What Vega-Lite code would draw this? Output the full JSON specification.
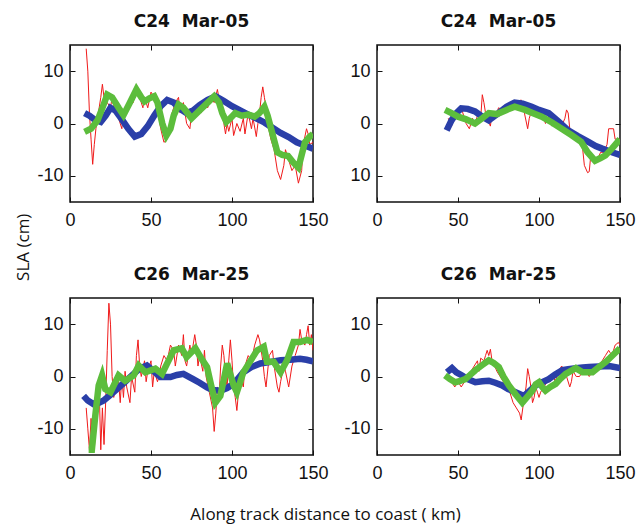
{
  "$schema": "https://vega.github.io/schema/vega-lite/v6.json",
  "background": "white",
  "padding": {"left": 15, "top": 11, "right": 0, "bottom": 5},
  "datasets": {
    "tl": [
      {"s":"b","x":9,"y":2.0},{"s":"b","x":12,"y":1.5},{"s":"b","x":15,"y":0.8},{"s":"b","x":19,"y":0.3},{"s":"b","x":22,"y":1.5},{"s":"b","x":25,"y":3.0},{"s":"b","x":28,"y":2.5},{"s":"b","x":32,"y":0.8},{"s":"b","x":36,"y":-1.0},{"s":"b","x":40,"y":-2.5},{"s":"b","x":44,"y":-2.0},{"s":"b","x":48,"y":-0.5},{"s":"b","x":52,"y":1.5},{"s":"b","x":56,"y":3.3},{"s":"b","x":60,"y":4.5},{"s":"b","x":64,"y":4.0},{"s":"b","x":68,"y":2.8},{"s":"b","x":72,"y":2.0},{"s":"b","x":76,"y":2.5},{"s":"b","x":80,"y":3.5},{"s":"b","x":85,"y":4.5},{"s":"b","x":90,"y":5.2},{"s":"b","x":95,"y":4.3},{"s":"b","x":100,"y":3.3},{"s":"b","x":105,"y":2.5},{"s":"b","x":110,"y":1.7},{"s":"b","x":115,"y":1.0},{"s":"b","x":120,"y":0.2},{"s":"b","x":125,"y":-0.8},{"s":"b","x":130,"y":-1.8},{"s":"b","x":135,"y":-2.6},{"s":"b","x":140,"y":-3.6},{"s":"b","x":145,"y":-4.2},{"s":"b","x":150,"y":-4.8},
      {"s":"g","x":9,"y":-1.6},{"s":"g","x":13,"y":-1},{"s":"g","x":17,"y":0.6},{"s":"g","x":20,"y":3},{"s":"g","x":23,"y":5.5},{"s":"g","x":26,"y":5},{"s":"g","x":30,"y":3},{"s":"g","x":33,"y":1.6},{"s":"g","x":37,"y":4},{"s":"g","x":41,"y":6.5},{"s":"g","x":44,"y":5},{"s":"g","x":46,"y":4.2},{"s":"g","x":49,"y":4.8},{"s":"g","x":52,"y":5.2},{"s":"g","x":54,"y":4},{"s":"g","x":57,"y":0},{"s":"g","x":59.5,"y":-2.3},{"s":"g","x":62,"y":-1},{"s":"g","x":64,"y":1.5},{"s":"g","x":67,"y":3.6},{"s":"g","x":70,"y":3},{"s":"g","x":75,"y":1},{"s":"g","x":80,"y":2.5},{"s":"g","x":85,"y":4},{"s":"g","x":89,"y":5.2},{"s":"g","x":92,"y":4},{"s":"g","x":94,"y":2},{"s":"g","x":96.5,"y":0.3},{"s":"g","x":99,"y":1},{"s":"g","x":102,"y":2},{"s":"g","x":106,"y":1.5},{"s":"g","x":110,"y":1.7},{"s":"g","x":114,"y":1.3},{"s":"g","x":117,"y":2},{"s":"g","x":120,"y":3.2},{"s":"g","x":122,"y":1.5},{"s":"g","x":125,"y":-2},{"s":"g","x":128,"y":-5.5},{"s":"g","x":131,"y":-6},{"s":"g","x":134.6,"y":-6.2},{"s":"g","x":138,"y":-7.5},{"s":"g","x":141,"y":-8.4},{"s":"g","x":143,"y":-6},{"s":"g","x":145,"y":-3.6},{"s":"g","x":148,"y":-2.5},{"s":"g","x":150,"y":-2},
      {"s":"r","x":10,"y":14.3},{"s":"r","x":11,"y":10},{"s":"r","x":12,"y":2},{"s":"r","x":13,"y":-3},{"s":"r","x":14,"y":-7.8},{"s":"r","x":15,"y":-4},{"s":"r","x":16,"y":-1},{"s":"r","x":17,"y":1},{"s":"r","x":19,"y":5},{"s":"r","x":20,"y":7.5},{"s":"r","x":21,"y":5},{"s":"r","x":22,"y":6},{"s":"r","x":23,"y":4},{"s":"r","x":25,"y":3},{"s":"r","x":26,"y":5},{"s":"r","x":28,"y":2},{"s":"r","x":30,"y":1},{"s":"r","x":32,"y":-1},{"s":"r","x":33,"y":2},{"s":"r","x":35,"y":3},{"s":"r","x":37,"y":5},{"s":"r","x":39,"y":4},{"s":"r","x":41,"y":7},{"s":"r","x":43,"y":5},{"s":"r","x":45,"y":3},{"s":"r","x":46,"y":5},{"s":"r","x":48,"y":3},{"s":"r","x":50,"y":6},{"s":"r","x":52,"y":5},{"s":"r","x":54,"y":3},{"s":"r","x":56,"y":-1},{"s":"r","x":58,"y":-3.6},{"s":"r","x":60,"y":-3},{"s":"r","x":62,"y":0},{"s":"r","x":63,"y":2},{"s":"r","x":65,"y":4},{"s":"r","x":67,"y":5},{"s":"r","x":68,"y":2},{"s":"r","x":70,"y":4},{"s":"r","x":72,"y":0},{"s":"r","x":74,"y":-1},{"s":"r","x":75,"y":2},{"s":"r","x":77,"y":1},{"s":"r","x":79,"y":3},{"s":"r","x":81,"y":2},{"s":"r","x":83,"y":4},{"s":"r","x":85,"y":3},{"s":"r","x":87,"y":5},{"s":"r","x":89,"y":4},{"s":"r","x":91,"y":6.5},{"s":"r","x":93,"y":3},{"s":"r","x":95,"y":0},{"s":"r","x":96,"y":-2},{"s":"r","x":97,"y":0},{"s":"r","x":98,"y":-1.5},{"s":"r","x":100,"y":1},{"s":"r","x":101,"y":-2.3},{"s":"r","x":103,"y":0},{"s":"r","x":105,"y":-1.5},{"s":"r","x":107,"y":1},{"s":"r","x":108,"y":-2},{"s":"r","x":110,"y":2},{"s":"r","x":112,"y":-1},{"s":"r","x":113,"y":1},{"s":"r","x":115,"y":-2.5},{"s":"r","x":116,"y":0},{"s":"r","x":117,"y":2},{"s":"r","x":118,"y":5},{"s":"r","x":119,"y":7},{"s":"r","x":120,"y":5},{"s":"r","x":121,"y":3},{"s":"r","x":122,"y":0},{"s":"r","x":124,"y":-3},{"s":"r","x":126,"y":-5},{"s":"r","x":128,"y":-9},{"s":"r","x":130,"y":-10.7},{"s":"r","x":132,"y":-8},{"s":"r","x":133,"y":-5},{"s":"r","x":135,"y":-7},{"s":"r","x":137,"y":-9},{"s":"r","x":139,"y":-8},{"s":"r","x":141,"y":-11.4},{"s":"r","x":143,"y":-9},{"s":"r","x":144,"y":-4},{"s":"r","x":146,"y":-1},{"s":"r","x":147,"y":-2},{"s":"r","x":148,"y":-4},{"s":"r","x":150,"y":-3.6}
    ],
    "tr": [
      {"s":"b","x":43,"y":-1.3},{"s":"b","x":46,"y":0.6},{"s":"b","x":49,"y":2},{"s":"b","x":52,"y":2.9},{"s":"b","x":56,"y":2.8},{"s":"b","x":60.5,"y":2.3},{"s":"b","x":65,"y":1.3},{"s":"b","x":69,"y":0.6},{"s":"b","x":72,"y":1.3},{"s":"b","x":75,"y":2},{"s":"b","x":80,"y":3.2},{"s":"b","x":85,"y":4.0},{"s":"b","x":90,"y":3.8},{"s":"b","x":95.5,"y":3.2},{"s":"b","x":100,"y":2.6},{"s":"b","x":106,"y":2},{"s":"b","x":112,"y":0.4},{"s":"b","x":118,"y":-1.3},{"s":"b","x":124,"y":-2.4},{"s":"b","x":130.5,"y":-3.5},{"s":"b","x":135,"y":-4.3},{"s":"b","x":139,"y":-4.8},{"s":"b","x":145,"y":-5.5},{"s":"b","x":150,"y":-6.0},
      {"s":"g","x":42,"y":2.6},{"s":"g","x":46,"y":2},{"s":"g","x":50,"y":1.3},{"s":"g","x":55,"y":0.8},{"s":"g","x":60.5,"y":0},{"s":"g","x":65,"y":1},{"s":"g","x":69,"y":2},{"s":"g","x":74,"y":1.8},{"s":"g","x":80,"y":2.6},{"s":"g","x":85,"y":3.2},{"s":"g","x":91.4,"y":2.6},{"s":"g","x":96,"y":2},{"s":"g","x":101.7,"y":1.3},{"s":"g","x":108,"y":0.2},{"s":"g","x":114,"y":-1},{"s":"g","x":120,"y":-2.2},{"s":"g","x":126,"y":-3.5},{"s":"g","x":130,"y":-5.5},{"s":"g","x":134.6,"y":-7.1},{"s":"g","x":138,"y":-6.6},{"s":"g","x":141,"y":-6.1},{"s":"g","x":145,"y":-4.8},{"s":"g","x":150,"y":-3.0},
      {"s":"r","x":44,"y":1},{"s":"r","x":46,"y":-0.5},{"s":"r","x":48,"y":2},{"s":"r","x":52,"y":3},{"s":"r","x":55,"y":0},{"s":"r","x":57,"y":-1},{"s":"r","x":59,"y":1},{"s":"r","x":60,"y":-0.5},{"s":"r","x":62,"y":1.5},{"s":"r","x":64,"y":1},{"s":"r","x":65,"y":5.5},{"s":"r","x":66,"y":4},{"s":"r","x":67,"y":2},{"s":"r","x":68,"y":1},{"s":"r","x":70,"y":-0.5},{"s":"r","x":71,"y":2},{"s":"r","x":73,"y":1},{"s":"r","x":75,"y":3},{"s":"r","x":78,"y":2.5},{"s":"r","x":82,"y":3.5},{"s":"r","x":86,"y":4},{"s":"r","x":89,"y":4.5},{"s":"r","x":91,"y":2},{"s":"r","x":93,"y":-1},{"s":"r","x":94,"y":1},{"s":"r","x":96,"y":3},{"s":"r","x":98,"y":2},{"s":"r","x":100,"y":1},{"s":"r","x":102,"y":2},{"s":"r","x":104,"y":0},{"s":"r","x":106,"y":1.5},{"s":"r","x":108,"y":-0.5},{"s":"r","x":110,"y":0.5},{"s":"r","x":112,"y":-1},{"s":"r","x":114,"y":-0.5},{"s":"r","x":116,"y":1},{"s":"r","x":117,"y":2.6},{"s":"r","x":118,"y":2},{"s":"r","x":119,"y":-1},{"s":"r","x":121,"y":-2},{"s":"r","x":123,"y":-3},{"s":"r","x":125,"y":-3},{"s":"r","x":127,"y":-5},{"s":"r","x":128,"y":-8},{"s":"r","x":130,"y":-9.4},{"s":"r","x":131,"y":-9.2},{"s":"r","x":132,"y":-6},{"s":"r","x":134,"y":-6.5},{"s":"r","x":136,"y":-7},{"s":"r","x":138,"y":-5.5},{"s":"r","x":140,"y":-5.5},{"s":"r","x":142,"y":-4},{"s":"r","x":143,"y":-1},{"s":"r","x":146,"y":-1},{"s":"r","x":147,"y":-3},{"s":"r","x":150,"y":-3}
    ],
    "bl": [
      {"s":"b","x":8.4,"y":-3.7},{"s":"b","x":11,"y":-4.6},{"s":"b","x":14.6,"y":-5.3},{"s":"b","x":18,"y":-5.0},{"s":"b","x":20.8,"y":-4.6},{"s":"b","x":25,"y":-3.5},{"s":"b","x":29,"y":-2.4},{"s":"b","x":34,"y":-1.0},{"s":"b","x":39.3,"y":0.5},{"s":"b","x":43,"y":1.5},{"s":"b","x":47.5,"y":2.1},{"s":"b","x":51,"y":1.2},{"s":"b","x":55.8,"y":-0.1},{"s":"b","x":62,"y":-0.1},{"s":"b","x":66,"y":0.3},{"s":"b","x":70,"y":0.5},{"s":"b","x":76,"y":-0.5},{"s":"b","x":80,"y":-1.2},{"s":"b","x":84.6,"y":-2.1},{"s":"b","x":88,"y":-2.6},{"s":"b","x":92.8,"y":-2.7},{"s":"b","x":97,"y":-2.2},{"s":"b","x":101,"y":-1.4},{"s":"b","x":104,"y":-0.3},{"s":"b","x":107,"y":0.8},{"s":"b","x":112,"y":1.8},{"s":"b","x":117.5,"y":2.5},{"s":"b","x":124,"y":2.8},{"s":"b","x":130,"y":3.1},{"s":"b","x":136,"y":3.2},{"s":"b","x":142,"y":3.4},{"s":"b","x":146,"y":3.2},{"s":"b","x":150,"y":2.9},
      {"s":"g","x":11.5,"y":-14},{"s":"g","x":13.5,"y":-14},{"s":"g","x":15.6,"y":-7.5},{"s":"g","x":17.7,"y":-1.7},{"s":"g","x":19.8,"y":0.2},{"s":"g","x":21.8,"y":-2.4},{"s":"g","x":25,"y":-3},{"s":"g","x":30,"y":0.2},{"s":"g","x":34,"y":-0.8},{"s":"g","x":39.3,"y":0.2},{"s":"g","x":42.4,"y":2.1},{"s":"g","x":46.5,"y":0.8},{"s":"g","x":52.7,"y":1.5},{"s":"g","x":56.8,"y":0.5},{"s":"g","x":60,"y":2.5},{"s":"g","x":64,"y":5},{"s":"g","x":69,"y":5.4},{"s":"g","x":72,"y":3.7},{"s":"g","x":77.4,"y":5.4},{"s":"g","x":81,"y":3.5},{"s":"g","x":84.6,"y":1.8},{"s":"g","x":87,"y":-1.5},{"s":"g","x":89.7,"y":-5},{"s":"g","x":92.8,"y":-3.7},{"s":"g","x":95,"y":-0.5},{"s":"g","x":97,"y":2.5},{"s":"g","x":101,"y":-1.7},{"s":"g","x":103,"y":-3},{"s":"g","x":107,"y":0.8},{"s":"g","x":111,"y":2.8},{"s":"g","x":115.5,"y":5},{"s":"g","x":119.6,"y":5.7},{"s":"g","x":121.6,"y":2.8},{"s":"g","x":125.7,"y":2.8},{"s":"g","x":130,"y":0.8},{"s":"g","x":134,"y":3.1},{"s":"g","x":138,"y":6.6},{"s":"g","x":142,"y":6.6},{"s":"g","x":146.3,"y":7},{"s":"g","x":150,"y":6.6},
      {"s":"r","x":10,"y":-6},{"s":"r","x":11,"y":-10},{"s":"r","x":12,"y":-14},{"s":"r","x":13,"y":-8},{"s":"r","x":14,"y":-12},{"s":"r","x":15,"y":-14},{"s":"r","x":16,"y":-8},{"s":"r","x":17,"y":-4},{"s":"r","x":18,"y":-2},{"s":"r","x":19,"y":-14},{"s":"r","x":20,"y":-6},{"s":"r","x":21,"y":-13},{"s":"r","x":22,"y":-5},{"s":"r","x":23,"y":5},{"s":"r","x":24,"y":14},{"s":"r","x":25,"y":10},{"s":"r","x":26,"y":0},{"s":"r","x":27,"y":-4},{"s":"r","x":28,"y":-2},{"s":"r","x":30,"y":-1},{"s":"r","x":31,"y":-5},{"s":"r","x":32,"y":0},{"s":"r","x":33,"y":-4},{"s":"r","x":34,"y":1},{"s":"r","x":35,"y":-2},{"s":"r","x":37,"y":-5},{"s":"r","x":38,"y":0},{"s":"r","x":40,"y":-3},{"s":"r","x":41,"y":4},{"s":"r","x":42,"y":7},{"s":"r","x":43,"y":2},{"s":"r","x":44,"y":0},{"s":"r","x":46,"y":3},{"s":"r","x":47,"y":-1},{"s":"r","x":48,"y":1},{"s":"r","x":50,"y":3},{"s":"r","x":51,"y":-2},{"s":"r","x":52,"y":1},{"s":"r","x":54,"y":-1},{"s":"r","x":55,"y":0},{"s":"r","x":56,"y":2},{"s":"r","x":58,"y":4},{"s":"r","x":60,"y":3},{"s":"r","x":62,"y":6},{"s":"r","x":64,"y":5},{"s":"r","x":65,"y":2},{"s":"r","x":67,"y":6},{"s":"r","x":69,"y":4},{"s":"r","x":70,"y":8},{"s":"r","x":71,"y":3},{"s":"r","x":72,"y":2},{"s":"r","x":74,"y":6},{"s":"r","x":75,"y":4},{"s":"r","x":77,"y":8},{"s":"r","x":78,"y":6},{"s":"r","x":79,"y":2},{"s":"r","x":80,"y":4},{"s":"r","x":82,"y":1},{"s":"r","x":83,"y":5},{"s":"r","x":84,"y":0},{"s":"r","x":86,"y":-3},{"s":"r","x":88,"y":-6},{"s":"r","x":89,"y":-10.5},{"s":"r","x":90,"y":-7},{"s":"r","x":91,"y":-2},{"s":"r","x":92,"y":-4},{"s":"r","x":93,"y":2},{"s":"r","x":94,"y":6},{"s":"r","x":95,"y":4},{"s":"r","x":96,"y":0},{"s":"r","x":97,"y":-2},{"s":"r","x":98,"y":3},{"s":"r","x":99,"y":7},{"s":"r","x":100,"y":3},{"s":"r","x":101,"y":-2},{"s":"r","x":102,"y":-4},{"s":"r","x":103,"y":-6.5},{"s":"r","x":104,"y":-3},{"s":"r","x":105,"y":0},{"s":"r","x":107,"y":-2},{"s":"r","x":108,"y":2},{"s":"r","x":110,"y":4},{"s":"r","x":112,"y":3},{"s":"r","x":114,"y":6},{"s":"r","x":116,"y":8},{"s":"r","x":117,"y":7},{"s":"r","x":119,"y":3},{"s":"r","x":120,"y":0},{"s":"r","x":121,"y":-2},{"s":"r","x":123,"y":4},{"s":"r","x":125,"y":5},{"s":"r","x":126,"y":2},{"s":"r","x":128,"y":-2},{"s":"r","x":129,"y":-3},{"s":"r","x":130,"y":-1},{"s":"r","x":132,"y":2},{"s":"r","x":133,"y":1},{"s":"r","x":135,"y":-2},{"s":"r","x":137,"y":2},{"s":"r","x":139,"y":4},{"s":"r","x":141,"y":6},{"s":"r","x":142,"y":9},{"s":"r","x":143,"y":7},{"s":"r","x":145,"y":6},{"s":"r","x":146,"y":8},{"s":"r","x":147,"y":9.7},{"s":"r","x":148,"y":6},{"s":"r","x":149,"y":8},{"s":"r","x":150,"y":5}
    ],
    "br": [
      {"s":"b","x":43.2,"y":0.8},{"s":"b","x":46.3,"y":1.6},{"s":"b","x":49,"y":0.8},{"s":"b","x":52.5,"y":0.2},{"s":"b","x":56,"y":-0.5},{"s":"b","x":60.7,"y":-1.1},{"s":"b","x":65,"y":-0.9},{"s":"b","x":69,"y":-0.8},{"s":"b","x":73,"y":-1.2},{"s":"b","x":77.3,"y":-1.7},{"s":"b","x":81,"y":-2.4},{"s":"b","x":85.5,"y":-3},{"s":"b","x":90.7,"y":-3.7},{"s":"b","x":94,"y":-2.8},{"s":"b","x":98,"y":-1.7},{"s":"b","x":102,"y":-1.1},{"s":"b","x":106,"y":-0.5},{"s":"b","x":110,"y":0.4},{"s":"b","x":114.5,"y":1.2},{"s":"b","x":118,"y":1.4},{"s":"b","x":122.7,"y":1.6},{"s":"b","x":127,"y":1.7},{"s":"b","x":131,"y":1.8},{"s":"b","x":137,"y":1.9},{"s":"b","x":143.4,"y":2},{"s":"b","x":150,"y":1.6},
      {"s":"g","x":42,"y":0.2},{"s":"g","x":45,"y":-0.5},{"s":"g","x":48.3,"y":-1.1},{"s":"g","x":51,"y":-0.9},{"s":"g","x":54.5,"y":-0.5},{"s":"g","x":57.5,"y":0.3},{"s":"g","x":60.7,"y":1.2},{"s":"g","x":65,"y":2.2},{"s":"g","x":69,"y":3.1},{"s":"g","x":72,"y":2.6},{"s":"g","x":75.2,"y":1.8},{"s":"g","x":78,"y":0},{"s":"g","x":81.4,"y":-1.7},{"s":"g","x":85.5,"y":-3.4},{"s":"g","x":89.7,"y":-5},{"s":"g","x":93,"y":-3.8},{"s":"g","x":95.9,"y":-2.7},{"s":"g","x":98,"y":-1.5},{"s":"g","x":100,"y":-1.1},{"s":"g","x":102,"y":-2},{"s":"g","x":104,"y":-2.7},{"s":"g","x":107,"y":-2},{"s":"g","x":110.3,"y":-1.4},{"s":"g","x":113,"y":-0.5},{"s":"g","x":116.5,"y":0.5},{"s":"g","x":122.7,"y":1.6},{"s":"g","x":126.9,"y":0.8},{"s":"g","x":133,"y":0.8},{"s":"g","x":137,"y":1.8},{"s":"g","x":141.3,"y":2.8},{"s":"g","x":146,"y":4.2},{"s":"g","x":150,"y":5.4},
      {"s":"r","x":44,"y":0},{"s":"r","x":46,"y":-1},{"s":"r","x":48,"y":-2},{"s":"r","x":50,"y":-1},{"s":"r","x":52,"y":-2},{"s":"r","x":54,"y":-1},{"s":"r","x":56,"y":0},{"s":"r","x":58,"y":1},{"s":"r","x":60,"y":2},{"s":"r","x":62,"y":3},{"s":"r","x":63,"y":1},{"s":"r","x":64,"y":3.5},{"s":"r","x":66,"y":3},{"s":"r","x":67,"y":4},{"s":"r","x":68,"y":5},{"s":"r","x":69,"y":4},{"s":"r","x":70,"y":5.2},{"s":"r","x":71,"y":3},{"s":"r","x":72,"y":2.5},{"s":"r","x":74,"y":1},{"s":"r","x":76,"y":0},{"s":"r","x":78,"y":-1},{"s":"r","x":80,"y":-2},{"s":"r","x":82,"y":-3},{"s":"r","x":84,"y":-5},{"s":"r","x":86,"y":-6},{"s":"r","x":88,"y":-7},{"s":"r","x":89,"y":-8.3},{"s":"r","x":90,"y":-6},{"s":"r","x":91,"y":-4},{"s":"r","x":92,"y":-2},{"s":"r","x":93,"y":1.5},{"s":"r","x":94,"y":0},{"s":"r","x":95,"y":-2},{"s":"r","x":96,"y":-5},{"s":"r","x":97,"y":-4},{"s":"r","x":98,"y":-2},{"s":"r","x":99,"y":-3},{"s":"r","x":100,"y":-4},{"s":"r","x":101,"y":-3},{"s":"r","x":103,"y":-2},{"s":"r","x":105,"y":-1},{"s":"r","x":107,"y":-1},{"s":"r","x":109,"y":0},{"s":"r","x":110,"y":-1},{"s":"r","x":112,"y":1},{"s":"r","x":114,"y":2},{"s":"r","x":116,"y":1},{"s":"r","x":117,"y":0},{"s":"r","x":119,"y":-2},{"s":"r","x":120,"y":-1},{"s":"r","x":121,"y":1},{"s":"r","x":123,"y":0},{"s":"r","x":125,"y":0},{"s":"r","x":127,"y":1},{"s":"r","x":129,"y":1},{"s":"r","x":131,"y":0},{"s":"r","x":133,"y":1},{"s":"r","x":135,"y":1},{"s":"r","x":137,"y":2},{"s":"r","x":139,"y":3},{"s":"r","x":141,"y":4},{"s":"r","x":143,"y":5},{"s":"r","x":145,"y":4},{"s":"r","x":147,"y":6},{"s":"r","x":149,"y":6.5},{"s":"r","x":150,"y":6}
    ]
  },
  "title": {"text": "Along track distance to coast ( km)", "orient": "bottom", "anchor": "middle", "font": "Open Sans", "fontSize": 17, "fontWeight": "normal", "color": "#111", "offset": 24},
  "vconcat": [
    {
      "title": {"text": "SLA (cm)", "orient": "left", "anchor": "middle", "font": "Open Sans", "fontSize": 17, "fontWeight": "normal", "color": "#111", "offset": 3},
      "columns": 2,
      "spacing": {"column": 14, "row": 34},
      "concat": [
        {
          "title": "C24\u00a0\u00a0Mar-05",
          "width": 243, "height": 157,
          "data": {"name": "tl"},
          "resolve": {"axis": {"x": "independent", "y": "independent"}},
          "layer": [
            {"transform": [{"filter": "datum.s == 'r'"}], "mark": {"type": "line", "color": "#f01a1a", "strokeWidth": 1, "clip": true},
             "encoding": {"x": {"field": "x", "type": "quantitative", "scale": {"domain": [0, 150], "nice": false, "zero": false}, "axis": {"orient": "bottom", "values": [0, 50, 100, 150], "title": null}},
                          "y": {"field": "y", "type": "quantitative", "scale": {"domain": [-15, 15], "nice": false, "zero": false}, "axis": {"orient": "left", "values": [-10, 0, 10], "title": null, "labelExpr": "datum.value < 0 ? '-' + abs(datum.value) : datum.label"}}}},
            {"transform": [{"filter": "datum.s == 'b'"}], "mark": {"type": "line", "color": "#2a3fa8", "strokeWidth": 6.5, "clip": true},
             "encoding": {"x": {"field": "x", "type": "quantitative", "scale": {"domain": [0, 150], "nice": false}, "axis": null}, "y": {"field": "y", "type": "quantitative", "scale": {"domain": [-15, 15], "nice": false}, "axis": null}}},
            {"transform": [{"filter": "datum.s == 'g'"}], "mark": {"type": "line", "color": "#5cbd3c", "strokeWidth": 6.5, "clip": true},
             "encoding": {"x": {"field": "x", "type": "quantitative", "scale": {"domain": [0, 150], "nice": false}, "axis": null}, "y": {"field": "y", "type": "quantitative", "scale": {"domain": [-15, 15], "nice": false}, "axis": null}}},
            {"transform": [{"filter": "datum.s == 'g'"}], "mark": {"type": "line", "opacity": 0},
             "encoding": {"x": {"field": "x", "type": "quantitative", "scale": {"domain": [0, 150], "nice": false}, "axis": {"orient": "top", "labels": false, "values": [0, 50, 100, 150], "title": null}},
                          "y": {"field": "y", "type": "quantitative", "scale": {"domain": [-15, 15], "nice": false}, "axis": {"orient": "right", "labels": false, "values": [-10, 0, 10], "title": null}}}}
          ]
        },
        {
          "title": "C24\u00a0\u00a0Mar-05",
          "width": 243, "height": 157,
          "data": {"name": "tr"},
          "resolve": {"axis": {"x": "independent", "y": "independent"}},
          "layer": [
            {"transform": [{"filter": "datum.s == 'r'"}], "mark": {"type": "line", "color": "#f01a1a", "strokeWidth": 1, "clip": true},
             "encoding": {"x": {"field": "x", "type": "quantitative", "scale": {"domain": [0, 150], "nice": false, "zero": false}, "axis": {"orient": "bottom", "values": [0, 50, 100, 150], "title": null}},
                          "y": {"field": "y", "type": "quantitative", "scale": {"domain": [-15, 15], "nice": false, "zero": false}, "axis": {"orient": "left", "values": [-10, 0, 10], "title": null, "labelExpr": "datum.value < 0 ? '' + abs(datum.value) : datum.label"}}}},
            {"transform": [{"filter": "datum.s == 'b'"}], "mark": {"type": "line", "color": "#2a3fa8", "strokeWidth": 6.5, "clip": true},
             "encoding": {"x": {"field": "x", "type": "quantitative", "scale": {"domain": [0, 150], "nice": false}, "axis": null}, "y": {"field": "y", "type": "quantitative", "scale": {"domain": [-15, 15], "nice": false}, "axis": null}}},
            {"transform": [{"filter": "datum.s == 'g'"}], "mark": {"type": "line", "color": "#5cbd3c", "strokeWidth": 6.5, "clip": true},
             "encoding": {"x": {"field": "x", "type": "quantitative", "scale": {"domain": [0, 150], "nice": false}, "axis": null}, "y": {"field": "y", "type": "quantitative", "scale": {"domain": [-15, 15], "nice": false}, "axis": null}}},
            {"transform": [{"filter": "datum.s == 'g'"}], "mark": {"type": "line", "opacity": 0},
             "encoding": {"x": {"field": "x", "type": "quantitative", "scale": {"domain": [0, 150], "nice": false}, "axis": {"orient": "top", "labels": false, "values": [0, 50, 100, 150], "title": null}},
                          "y": {"field": "y", "type": "quantitative", "scale": {"domain": [-15, 15], "nice": false}, "axis": {"orient": "right", "labels": false, "values": [-10, 0, 10], "title": null}}}}
          ]
        },
        {
          "title": "C26\u00a0\u00a0Mar-25",
          "width": 243, "height": 157,
          "data": {"name": "bl"},
          "resolve": {"axis": {"x": "independent", "y": "independent"}},
          "layer": [
            {"transform": [{"filter": "datum.s == 'r'"}], "mark": {"type": "line", "color": "#f01a1a", "strokeWidth": 1, "clip": true},
             "encoding": {"x": {"field": "x", "type": "quantitative", "scale": {"domain": [0, 150], "nice": false, "zero": false}, "axis": {"orient": "bottom", "values": [0, 50, 100, 150], "title": null}},
                          "y": {"field": "y", "type": "quantitative", "scale": {"domain": [-15, 15], "nice": false, "zero": false}, "axis": {"orient": "left", "values": [-10, 0, 10], "title": null, "labelExpr": "datum.value < 0 ? '-' + abs(datum.value) : datum.label"}}}},
            {"transform": [{"filter": "datum.s == 'b'"}], "mark": {"type": "line", "color": "#2a3fa8", "strokeWidth": 6.5, "clip": true},
             "encoding": {"x": {"field": "x", "type": "quantitative", "scale": {"domain": [0, 150], "nice": false}, "axis": null}, "y": {"field": "y", "type": "quantitative", "scale": {"domain": [-15, 15], "nice": false}, "axis": null}}},
            {"transform": [{"filter": "datum.s == 'g'"}], "mark": {"type": "line", "color": "#5cbd3c", "strokeWidth": 6.5, "clip": true},
             "encoding": {"x": {"field": "x", "type": "quantitative", "scale": {"domain": [0, 150], "nice": false}, "axis": null}, "y": {"field": "y", "type": "quantitative", "scale": {"domain": [-15, 15], "nice": false}, "axis": null}}},
            {"transform": [{"filter": "datum.s == 'g'"}], "mark": {"type": "line", "opacity": 0},
             "encoding": {"x": {"field": "x", "type": "quantitative", "scale": {"domain": [0, 150], "nice": false}, "axis": {"orient": "top", "labels": false, "values": [0, 50, 100, 150], "title": null}},
                          "y": {"field": "y", "type": "quantitative", "scale": {"domain": [-15, 15], "nice": false}, "axis": {"orient": "right", "labels": false, "values": [-10, 0, 10], "title": null}}}}
          ]
        },
        {
          "title": "C26\u00a0\u00a0Mar-25",
          "width": 243, "height": 157,
          "data": {"name": "br"},
          "resolve": {"axis": {"x": "independent", "y": "independent"}},
          "layer": [
            {"transform": [{"filter": "datum.s == 'r'"}], "mark": {"type": "line", "color": "#f01a1a", "strokeWidth": 1, "clip": true},
             "encoding": {"x": {"field": "x", "type": "quantitative", "scale": {"domain": [0, 150], "nice": false, "zero": false}, "axis": {"orient": "bottom", "values": [0, 50, 100, 150], "title": null}},
                          "y": {"field": "y", "type": "quantitative", "scale": {"domain": [-15, 15], "nice": false, "zero": false}, "axis": {"orient": "left", "values": [-10, 0, 10], "title": null, "labelExpr": "datum.value < 0 ? '-' + abs(datum.value) : datum.label"}}}},
            {"transform": [{"filter": "datum.s == 'b'"}], "mark": {"type": "line", "color": "#2a3fa8", "strokeWidth": 6.5, "clip": true},
             "encoding": {"x": {"field": "x", "type": "quantitative", "scale": {"domain": [0, 150], "nice": false}, "axis": null}, "y": {"field": "y", "type": "quantitative", "scale": {"domain": [-15, 15], "nice": false}, "axis": null}}},
            {"transform": [{"filter": "datum.s == 'g'"}], "mark": {"type": "line", "color": "#5cbd3c", "strokeWidth": 6.5, "clip": true},
             "encoding": {"x": {"field": "x", "type": "quantitative", "scale": {"domain": [0, 150], "nice": false}, "axis": null}, "y": {"field": "y", "type": "quantitative", "scale": {"domain": [-15, 15], "nice": false}, "axis": null}}},
            {"transform": [{"filter": "datum.s == 'g'"}], "mark": {"type": "line", "opacity": 0},
             "encoding": {"x": {"field": "x", "type": "quantitative", "scale": {"domain": [0, 150], "nice": false}, "axis": {"orient": "top", "labels": false, "values": [0, 50, 100, 150], "title": null}},
                          "y": {"field": "y", "type": "quantitative", "scale": {"domain": [-15, 15], "nice": false}, "axis": {"orient": "right", "labels": false, "values": [-10, 0, 10], "title": null}}}}
          ]
        }
      ]
    }
  ],
  "config": {
    "view": {"stroke": "#111", "strokeWidth": 1.5},
    "axis": {"domain": false, "grid": false, "tickSize": -5, "tickColor": "#111", "tickWidth": 1, "labelFont": "Liberation Sans", "labelFontSize": 18, "labelColor": "#111", "labelFlush": false, "labelOverlap": false},
    "axisX": {"labelPadding": 14},
    "axisY": {"labelPadding": 12},
    "title": {"font": "DejaVu Sans", "fontSize": 17, "fontWeight": "bold", "color": "#111", "offset": 14}
  }
}
